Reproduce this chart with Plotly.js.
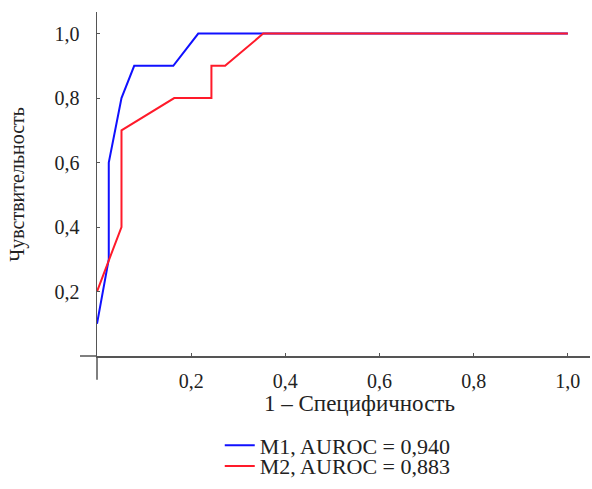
<!DOCTYPE html>
<html>
<head>
<meta charset="utf-8">
<script src="https://cdn.plot.ly/plotly-3.0.1.min.js"></script>
<style>html,body{margin:0;padding:0;background:#fff;}#chart{width:592px;height:489px;}</style>
</head>
<body>
<div id="chart"></div>
<script>
const m1Fpr = [0, 0.025, 0.025, 0.052, 0.079, 0.162, 0.215, 1.0];
const m1Tpr = [0.1, 0.3, 0.6, 0.8, 0.9, 0.9, 1.0, 1.0];
const m2Fpr = [0, 0.052, 0.052, 0.164, 0.243, 0.243, 0.272, 0.353, 1.0];
const m2Tpr = [0.2, 0.4, 0.7, 0.8, 0.8, 0.9, 0.9, 1.0, 1.0];
const seriesNames = ["M1, AUROC = 0,940", "M2, AUROC = 0,883"];
const tickValues = [0.2, 0.4, 0.6, 0.8, 1.0];
const xTitle = "1 – Специфичность";
const yTitle = "Чувствительность";

const font = "Liberation Serif, Times New Roman, serif";
const txt = "#222";
const axCol = "#555";
const traces = [
  {x: m1Fpr, y: m1Tpr, name: seriesNames[0], mode: "lines", line: {color: "#1010ff", width: 2}, legend: "legend"},
  {x: m2Fpr, y: m2Tpr, name: seriesNames[1], mode: "lines", line: {color: "#ff1a2a", width: 2}, legend: "legend2"}
];
const legBase = {xanchor: "left", yanchor: "middle", font: {family: font, size: 22, color: txt},
                 itemwidth: 30, bgcolor: "rgba(0,0,0,0)", borderwidth: 0};
const layout = {
  width: 592, height: 489,
  margin: {l: 97, r: 2, t: 12, b: 128},
  paper_bgcolor: "#fff", plot_bgcolor: "#fff",
  separators: ", ",
  font: {family: font, size: 20, color: txt},
  showlegend: true,
  legend: Object.assign({x: 0.249, y: -0.26}, legBase),
  legend2: Object.assign({x: 0.249, y: -0.32}, legBase),
  xaxis: {range: [0, 1.047], showgrid: false, zeroline: false, showline: true, linecolor: axCol, linewidth: 1.5,
          tickvals: tickValues, tickformat: ".1f", ticks: "inside", ticklen: 3, tickcolor: axCol,
          ticklabelstandoff: 6,
          tickfont: {family: font, size: 20, color: txt}},
  yaxis: {range: [0, 1.067], showgrid: false, zeroline: false, showline: true, linecolor: axCol, linewidth: 1.5,
          tickvals: tickValues, tickformat: ".1f", ticks: "inside", ticklen: 3, tickcolor: axCol,
          ticklabelstandoff: 12,
          tickfont: {family: font, size: 20, color: txt}},
  annotations: [
    {text: xTitle, xref: "paper", yref: "paper", x: 0.533, y: -0.138, xanchor: "center", yanchor: "middle",
     showarrow: false, font: {family: font, size: 23, color: txt}},
    {text: yTitle, xref: "paper", yref: "paper", x: -0.160, y: 0.498, xanchor: "center", yanchor: "middle",
     textangle: -90, showarrow: false, font: {family: font, size: 20, color: txt}}
  ],
  shapes: [
    {type: "line", xref: "paper", yref: "paper", x0: -0.0345, x1: 0, y0: 0, y1: 0, line: {color: axCol, width: 1.5}},
    {type: "line", xref: "paper", yref: "paper", x0: 0, x1: 0, y0: -0.069, y1: 0, line: {color: axCol, width: 1.5}}
  ]
};
Plotly.newPlot("chart", traces, layout, {displayModeBar: false, staticPlot: true});
</script>
</body>
</html>
